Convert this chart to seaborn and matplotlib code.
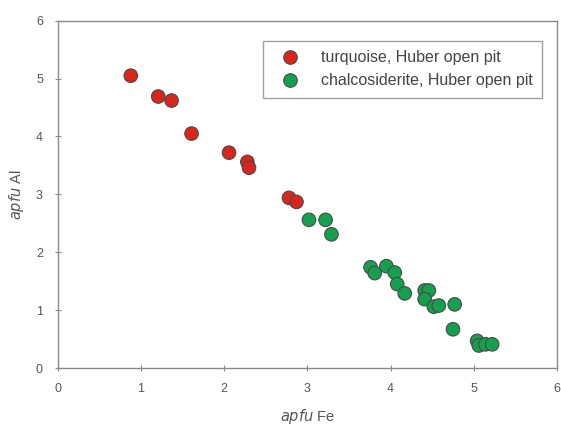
import matplotlib
matplotlib.use("Agg")
import matplotlib.pyplot as plt
import seaborn as sns
import pandas as pd

turq_fe = [0.88, 1.21, 1.37, 1.61, 2.06, 2.28, 2.30, 2.78, 2.87]
turq_al = [5.05, 4.69, 4.62, 4.05, 3.72, 3.56, 3.46, 2.94, 2.87]

chal_fe = [3.02, 3.22, 3.29, 3.76, 3.81, 3.95, 4.05, 4.08, 4.17, 4.41, 4.46, 4.41,
           4.52, 4.58, 4.77, 4.75, 5.04, 5.06, 5.14, 5.22]
chal_al = [2.56, 2.56, 2.31, 1.74, 1.64, 1.76, 1.65, 1.45, 1.29, 1.34, 1.34, 1.19,
           1.06, 1.08, 1.10, 0.67, 0.47, 0.39, 0.41, 0.41]

labels = ["turquoise, Huber open pit", "chalcosiderite, Huber open pit"]
colors = ["#d8261d", "#14a04e"]

df = pd.DataFrame({
    "Fe": turq_fe + chal_fe,
    "Al": turq_al + chal_al,
    "mineral": [labels[0]] * len(turq_fe) + [labels[1]] * len(chal_fe),
})

sns.set_style("white")
plt.rcParams["font.family"] = ["Liberation Sans", "DejaVu Sans"]

fig = plt.figure(figsize=(5.61, 4.26), dpi=100)
ax = fig.add_axes([0.1025, 0.136, 0.8905, 0.8155])

sns.scatterplot(data=df, x="Fe", y="Al", hue="mineral", palette=colors,
                s=95, edgecolor="#4a4a4a", linewidth=0.8, ax=ax, zorder=3)

ax.set_xlim(0, 6)
ax.set_ylim(0, 6)
ax.set_xticks(range(0, 7))
ax.set_yticks(range(0, 7))
for sp in ax.spines.values():
    sp.set_color("#8a8a8a")
    sp.set_linewidth(1.0)
ax.tick_params(axis="both", which="both", direction="inout", length=5, width=0.8,
               color="#8a8a8a", labelcolor="#555555", labelsize=9,
               bottom=True, left=True)
ax.tick_params(axis="x", pad=8)
ax.tick_params(axis="y", pad=8)

ax.set_xlabel(r"$\it{apfu}$ Fe", fontsize=10.5, color="#555555", labelpad=9)
ax.set_ylabel(r"$\it{apfu}$ Al", fontsize=10.5, color="#555555", labelpad=7)

leg = ax.legend(loc="upper right", bbox_to_anchor=(0.97, 0.942), fontsize=11.5,
                frameon=True, fancybox=False, borderpad=0.6, handletextpad=0.8,
                labelspacing=0.5, markerscale=1.0, borderaxespad=0.0,
                handlelength=2.2)
leg.get_frame().set_edgecolor("#8a8a8a")
leg.get_frame().set_linewidth(1.0)
for t in leg.get_texts():
    t.set_color("#444444")

fig.savefig("out.png", dpi=100)
